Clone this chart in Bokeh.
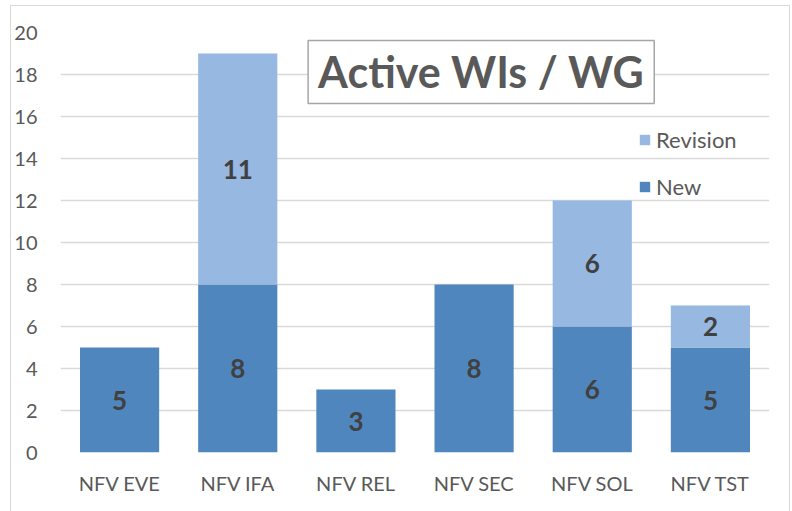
from bokeh.plotting import figure
from bokeh.models import ColumnDataSource, Label, Legend, LegendItem, FactorRange
from bokeh.core.properties import value
from bokeh.embed import file_html
from bokeh.resources import INLINE

categories = ["NFV EVE", "NFV IFA", "NFV REL", "NFV SEC", "NFV SOL", "NFV TST"]
new_vals = [5, 8, 3, 8, 6, 5]
rev_vals = [0, 11, 0, 0, 6, 2]
y_ticks = [0, 2, 4, 6, 8, 10, 12, 14, 16, 18, 20]
title_text = "Active WIs / WG"

NEW_C = "#4F86BE"
REV_C = "#97B8E0"
FONT = "Lato"

src = ColumnDataSource(dict(cat=categories, New=new_vals, Revision=rev_vals))

p = figure(x_range=FactorRange(*categories), y_range=(0, 20), width=780, height=506,
           output_backend="svg", toolbar_location=None,
           min_border_left=45, min_border_right=22, min_border_top=26, min_border_bottom=60)
p.x_range.range_padding = 0
p.styles = {"border-top": "1.5px solid #D9D9D9", "border-left": "1.5px solid #D9D9D9",
            "border-right": "1.5px solid #D9D9D9", "box-sizing": "border-box",
            "margin-left": "10px", "margin-top": "5px"}
p.outline_line_color = None
p.background_fill_color = "white"

r = p.vbar_stack(["New", "Revision"], x="cat", width=0.67, source=src,
                 color=[NEW_C, REV_C], line_color=None)

# data labels
lx, ly, lt = [], [], []
for c, n, v in zip(categories, new_vals, rev_vals):
    if n:
        lx.append(c); ly.append(n / 2); lt.append(str(n))
    if v:
        lx.append(c); ly.append(n + v / 2); lt.append(str(v))
p.text(x=lx, y=ly, text=lt, text_align="center", text_baseline="middle",
       text_font=value(FONT), text_font_style="bold", text_font_size="26px",
       text_color="#404040")

p.yaxis.ticker = y_ticks
p.ygrid.grid_line_color = "#D9D9D9"
p.ygrid.grid_line_width = 1.5
p.xgrid.grid_line_color = None

for ax in (p.xaxis[0], p.yaxis[0]):
    ax.axis_line_color = None
    ax.major_tick_line_color = None
    ax.minor_tick_line_color = None
    ax.major_label_text_font = FONT
    ax.major_label_text_font_size = "20px"
    ax.major_label_text_color = "#595959"
p.yaxis.major_label_standoff = 17
p.xaxis.major_label_standoff = 12

lab = Label(x=3.56, y=18.12, text=title_text, text_align="center", text_baseline="middle",
            text_font=FONT, text_font_style="bold", text_font_size="43px",
            text_color="#595959", background_fill_color="white",
            border_line_color="#A6A6A6", border_line_width=1.5, padding=(10, 6))
p.add_layout(lab)

legend = Legend(items=[LegendItem(label="Revision", renderers=[r[1]]),
                       LegendItem(label="New", renderers=[r[0]])],
                location=(578, 252), padding=0, margin=0, spacing=20,
                glyph_width=13, glyph_height=13, label_height=22,
                label_text_font=FONT, label_text_font_size="22px",
                label_text_color="#595959", border_line_color=None,
                background_fill_alpha=0)
p.add_layout(legend)

open("out.html", "w").write(file_html(p, INLINE))
